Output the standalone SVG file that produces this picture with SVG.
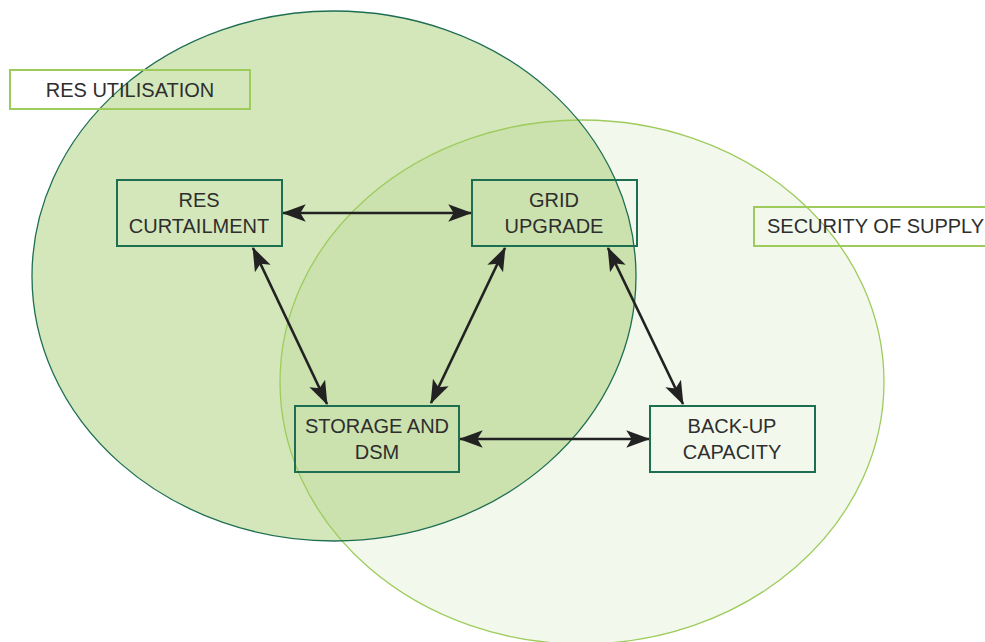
<svg xmlns="http://www.w3.org/2000/svg" width="985" height="642" viewBox="0 0 985 642">
<style>
.txt{font-family:"Liberation Sans",Arial,sans-serif;font-size:20px;fill:#2e2e2e;text-anchor:middle}
.node{fill:none;stroke:#1e6e52;stroke-width:2}
.lab{fill:none;stroke:#9dcc5c;stroke-width:2}
.con{stroke:#222;stroke-width:2.6;fill:none;marker-start:url(#ah);marker-end:url(#ah)}
</style>
<defs>
<marker id="ah" markerUnits="userSpaceOnUse" markerWidth="26" markerHeight="18" refX="21" refY="8" orient="auto-start-reverse" viewBox="0 0 24 16">
<path d="M0,0 L22,8 L0,16 L5,8 Z" fill="#222"/>
</marker>
<clipPath id="clipLight"><ellipse cx="582" cy="382" rx="302" ry="262"/></clipPath>
</defs>
<rect width="985" height="642" fill="#ffffff"/>
<g id="circles">
<ellipse cx="582" cy="382" rx="302" ry="262" fill="#f3f8ec"/>
<ellipse cx="334" cy="276" rx="302" ry="265" fill="#d4e7bb"/>
<ellipse cx="334" cy="276" rx="302" ry="265" fill="#cbe1ae" clip-path="url(#clipLight)"/>
<ellipse cx="582" cy="382" rx="302" ry="262" fill="none" stroke="#9dcc5c" stroke-width="1.3"/>
<ellipse cx="334" cy="276" rx="302" ry="265" fill="none" stroke="#1e6e52" stroke-width="1.3"/>
</g>
<g id="label-res-utilisation">
<rect class="lab" x="10" y="70" width="240" height="39"/>
<text class="txt" x="130" y="97">RES UTILISATION</text>
</g>
<g id="label-security">
<rect class="lab" x="754" y="207" width="240" height="39"/>
<text class="txt" x="767" y="233" style="text-anchor:start">SECURITY OF SUPPLY</text>
</g>
<g id="connectors">
<line class="con" x1="283" y1="213" x2="471" y2="213"/>
<line class="con" x1="253" y1="248" x2="327" y2="404"/>
<line class="con" x1="505" y1="248" x2="431" y2="403"/>
<line class="con" x1="608" y1="248" x2="683" y2="404"/>
<line class="con" x1="460" y1="439" x2="649" y2="439"/>
</g>
<g id="node-res-curtailment">
<rect class="node" x="117" y="180" width="165" height="66"/>
<text class="txt" x="199" y="207">RES</text>
<text class="txt" x="199" y="233">CURTAILMENT</text>
</g>
<g id="node-grid-upgrade">
<rect class="node" x="472" y="180" width="165" height="66"/>
<text class="txt" x="554" y="207">GRID</text>
<text class="txt" x="554" y="233">UPGRADE</text>
</g>
<g id="node-storage">
<rect class="node" x="295" y="406" width="164" height="66"/>
<text class="txt" x="377" y="433">STORAGE AND</text>
<text class="txt" x="377" y="459">DSM</text>
</g>
<g id="node-backup">
<rect class="node" x="650" y="406" width="165" height="66"/>
<text class="txt" x="732" y="433">BACK-UP</text>
<text class="txt" x="732" y="459">CAPACITY</text>
</g>
</svg>
